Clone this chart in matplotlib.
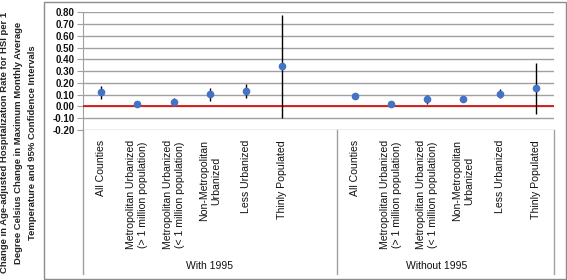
import matplotlib.pyplot as plt
from matplotlib.patches import Rectangle

plt.rcParams["font.family"] = "Liberation Sans"

# Categories and estimates
categories = ['All Counties',
              'Metropolitan Urbanized\n(> 1 million population)',
              'Metropolitan Urbanized\n(< 1 million population)',
              'Non-Metropolitan\nUrbanized',
              'Less Urbanized',
              'Thinly Populated']
groups = ['With 1995', 'Without 1995']

with_est = [0.12, 0.02, 0.04, 0.11, 0.13, 0.34]
with_low = [0.06, 0.00, 0.01, 0.05, 0.07, -0.10]
with_high = [0.17, 0.03, 0.07, 0.16, 0.19, 0.78]

without_est = [0.09, 0.02, 0.06, 0.065, 0.11, 0.155]
without_low = [0.06, 0.01, 0.02, 0.035, 0.075, -0.06]
without_high = [0.11, 0.03, 0.095, 0.09, 0.15, 0.37]

yticks = [-0.2, -0.1, 0.0, 0.1, 0.2, 0.3, 0.4, 0.5, 0.6, 0.7, 0.8]

W, H = 567, 280
fig = plt.figure(figsize=(W / 100, H / 100), dpi=100)
ax = fig.add_axes([83 / W, 1 - 130 / H, (554 - 83) / W, (130 - 12.3) / H])

# positions: 6 categories, one empty slot, 6 categories
x_with = list(range(6))
x_without = [i + 7 for i in range(6)]

blue = '#4472C4'
grey = '#a0a0a0'

for xs, est, lo, hi in [(x_with, with_est, with_low, with_high),
                        (x_without, without_est, without_low, without_high)]:
    yerr = [[e - l for e, l in zip(est, lo)], [h - e for e, h in zip(est, hi)]]
    ax.errorbar(xs, est, yerr=yerr, fmt='o', color=blue, markersize=4.5,
                ecolor='black', elinewidth=1, capsize=0, zorder=4)

# red zero line
ax.axhline(0, color='#e00000', lw=1.2, zorder=3)

ax.set_xlim(-0.5, 12.5)
ax.set_ylim(-0.2, 0.8)
ax.set_yticks(yticks)
ax.set_yticklabels(['%.2f' % v for v in yticks], fontsize=7, fontweight='bold')
ax.yaxis.grid(True, color=grey, lw=1)
ax.set_axisbelow(True)
ax.set_xticks([])
for s in ['top', 'right', 'bottom']:
    ax.spines[s].set_visible(False)
ax.spines['left'].set_color(grey)
ax.tick_params(axis='y', length=4, color=grey, pad=2, labelcolor='#111111')

# category labels
tr = ax.get_xaxis_transform()
for xs in [x_with, x_without]:
    for x, c in zip(xs, categories):
        ax.text(x, -0.085, c, transform=tr, rotation=90, ha='center', va='top',
                multialignment='center', fontsize=7.6, linespacing=1.25,
                color='#111111')

# group labels and separators
ax.text(3, -1.155, groups[0], transform=tr, ha='center', va='center',
        fontsize=7.5, color='#111111')
ax.text(9.25, -1.155, groups[1], transform=tr, ha='center', va='center',
        fontsize=7.5, color='#111111')
for xs in [-0.5, 6.5, 12.5]:
    ax.plot([xs, xs], [0, -1.223], transform=tr, color=grey, lw=1, clip_on=False)

fig.text(18.5 / W, 1 - 142.5 / H,
         'Change in Age-adjusted Hospitalization Rate for HSI per 1\n'
         'Degree Celsius Change in Maximum Monthly Average\n'
         'Temperature and 95% Confidence Intervals',
         rotation=90, ha='center', va='center', multialignment='center',
         fontsize=6.8, fontweight='bold', color='#222222', linespacing=1.75)

# outer chart border
fig.patches.append(Rectangle((43.5 / W, 1 / H), (565.5 - 43.5) / W, (278.5 - 1) / H,
                             transform=fig.transFigure, fill=False,
                             edgecolor='#8c8c8c', lw=1))

fig.savefig('out.png', dpi=100)
